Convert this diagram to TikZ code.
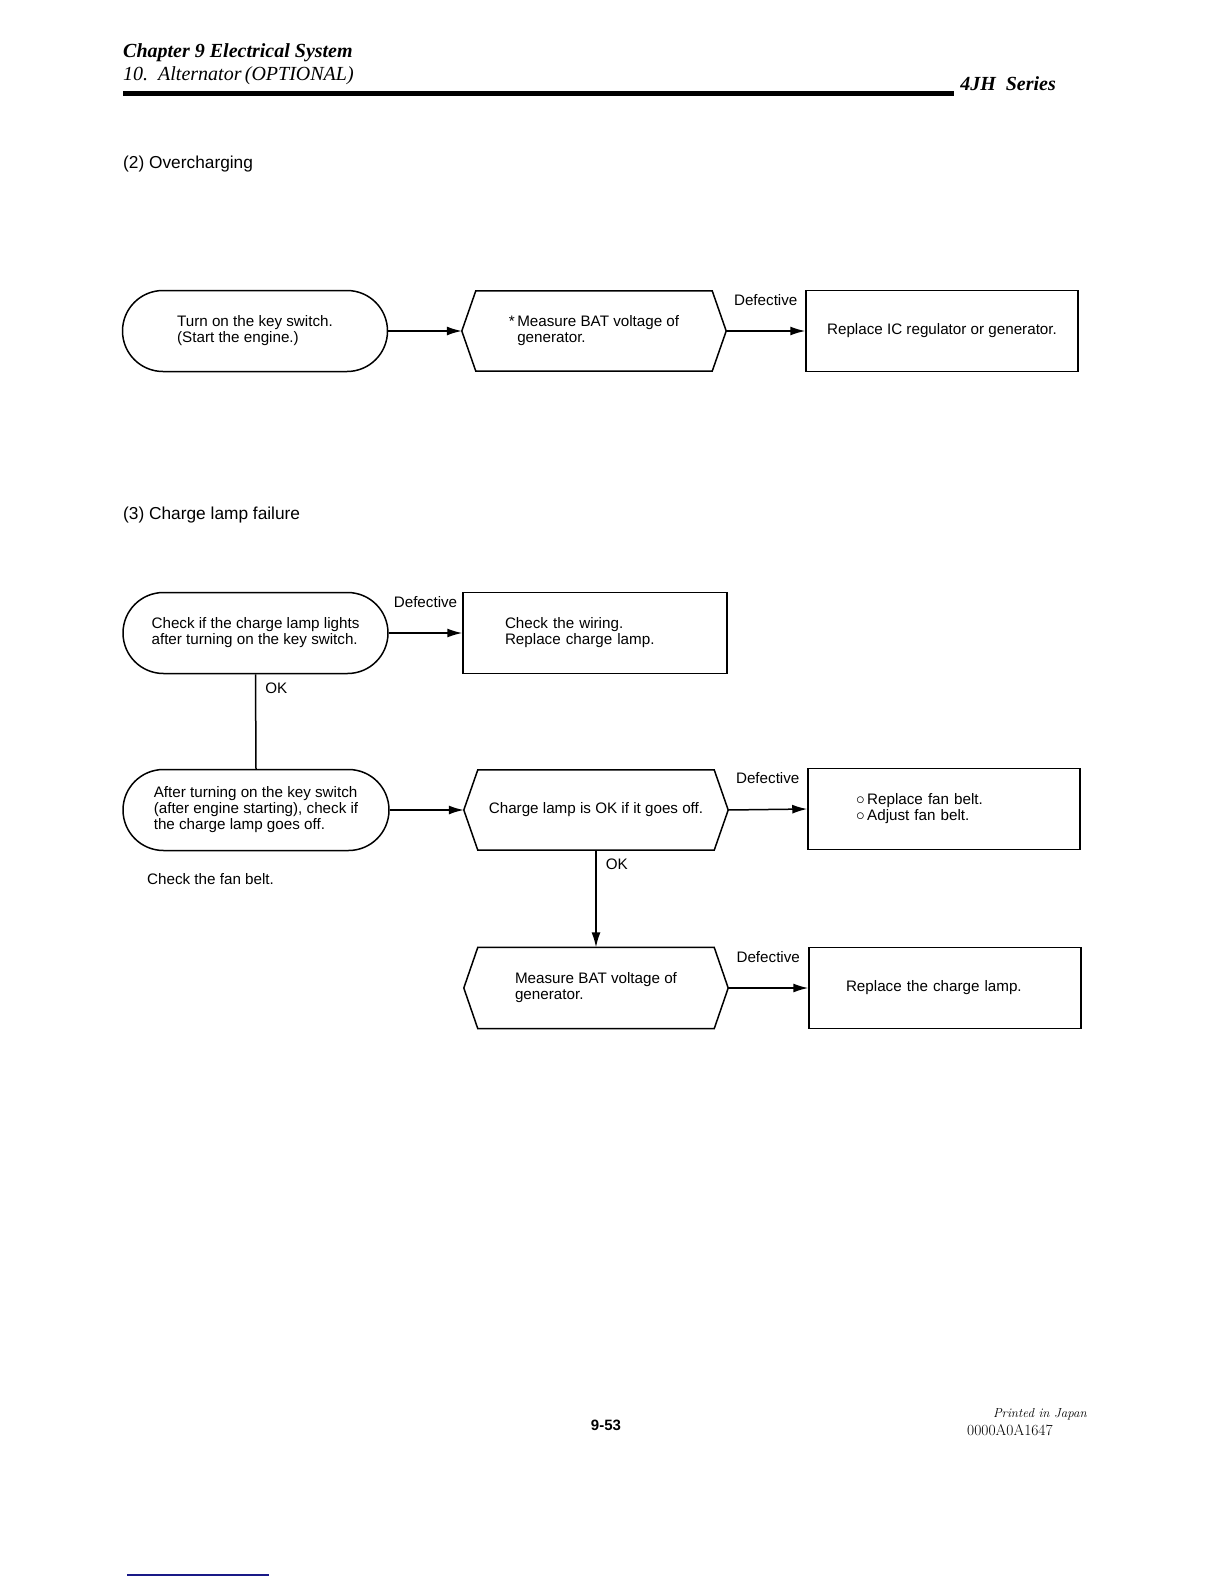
\documentclass[tikz,border=0pt]{standalone}
\usepackage{fontspec}
\setsansfont{Liberation Sans}
\newfontfamily\headfont{Liberation Serif}
\usepackage{tikz}
\usetikzlibrary{arrows.meta, positioning, shapes.misc}

\definecolor{scanblue}{RGB}{25,25,135}

% hexagon frame drawn round a plain node
\def\hexcut{14}
\newcommand{\hexframe}[1]{%
  \draw[flowline, line join=miter] ([xshift=\hexcut pt]#1.north west) -- ([xshift=-\hexcut pt]#1.north east)
    -- (#1.east) -- ([xshift=-\hexcut pt]#1.south east) -- ([xshift=\hexcut pt]#1.south west) -- (#1.west) -- cycle;}
\newcommand{\ringmark}{\smash{\fontsize{18}{16}\selectfont$\circ$}}

\begin{document}
\begin{tikzpicture}[
    x=1pt, y=-1pt,
    every node/.style={font=\sffamily\fontsize{15.2}{16}\selectfont},
    termbox/.style={rounded rectangle, draw, line width=1.5pt, minimum width=265pt, minimum height=81pt, inner sep=0pt, align=left},
    hexbox/.style={minimum width=264pt, minimum height=80pt, inner sep=0pt, align=left},
    actbox/.style={draw, line width=1.5pt, minimum height=81pt, align=left},
    flowarrow/.style={-{Latex[length=15pt,width=9pt]}, line width=1.5pt},
    flowline/.style={line width=1.5pt},
    deflabel/.style={above=25pt, inner sep=0pt},
    oklabel/.style={right=9pt, inner sep=0pt},
    chapfont/.style={font=\headfont\fontsize{20}{22}\selectfont\bfseries\itshape, anchor=west, inner sep=0pt},
    sectfont/.style={font=\headfont\fontsize{20}{22}\selectfont\itshape, anchor=west, inner sep=0pt},
    titlefont/.style={font=\sffamily\fontsize{17.3}{20}\selectfont, anchor=west, inner sep=0pt}
]

\fill[white] (0,0) rectangle (1224,1584);
\useasboundingbox (0,0) rectangle (1224,1584);

% page head
\node[chapfont] (chaptitle) at (123,53) {Chapter 9 Electrical System};
\node[sectfont] (secttitle) at (123,76) {10.\ \ Alternator\,(OPTIONAL)};
\draw[line width=5pt] (123,94) -- (954,94);
\node[chapfont, anchor=east] (series) at (1056,84) {4JH\ \ Series};

% (2) Overcharging
\node[titlefont] (sec2) at (123,164) {(2) Overcharging};

\node[termbox] (keyon) at (255,331) {Turn on the key switch.\\(Start the engine.)};
\node[hexbox] (batover) at (594,331) {*\,Measure BAT voltage of\\\hphantom{*\,}generator.};
\hexframe{batover}
\node[actbox, minimum width=272pt, align=center] (icrep) at (942,331) {Replace IC regulator or generator.};

\draw[flowarrow] (keyon.east) -- (batover.west);
\draw[flowarrow] (batover.east) -- node[deflabel] {Defective} (icrep.west);

% (3) Charge lamp failure
\node[titlefont] (sec3) at (123,515) {(3) Charge lamp failure};

\node[termbox] (lampon) at (255.5,633) {Check if the charge lamp lights\\after turning on the key switch.};
\node[actbox, text width=180pt, inner xsep=42pt] (wirechk) at (595,633) {Check the wiring.\\Replace charge lamp.};

\node[termbox, minimum width=266pt] (lampoff) at (256,810) {After turning on the key switch\\(after engine starting), check if\\the charge lamp goes off.};
\node[hexbox] (lampok) at (596,810) {Charge lamp is OK if it goes off.};
\hexframe{lampok}
\node[actbox, text width=176pt, inner xsep=48pt] (beltfix) at (944,809) {\ringmark\,Replace fan belt.\\\ringmark\,Adjust fan belt.};
\node[anchor=west, inner sep=0pt] (beltnote) at (147,879) {Check the fan belt.};

\node[hexbox, minimum height=81pt] (batlamp) at (596,988) {Measure BAT voltage of\\generator.};
\hexframe{batlamp}
\node[actbox, text width=198pt, inner xsep=37pt] (lamprep) at (945,988) {Replace the charge lamp.};

\draw[flowarrow] (lampon.east) -- node[deflabel] {Defective} (wirechk.west);
\draw[flowline] (lampon.south) -- node[oklabel, pos=0.15] {OK} (lampoff.north);
\draw[flowarrow] (lampoff.east) -- (lampok.west);
\draw[flowarrow] (lampok.east) -- node[deflabel] {Defective} (beltfix.west);
\draw[flowarrow] (lampok.south) -- node[oklabel, pos=0.14] {OK} (batlamp.north);
\draw[flowarrow] (batlamp.east) -- node[deflabel] {Defective} (lamprep.west);

% page foot
\node[font=\sffamily\bfseries\fontsize{15}{16}\selectfont] (pageno) at (606,1425) {9-53};
\node[anchor=east, inner sep=0pt, font=\rmfamily\itshape\fontsize{13}{14}\selectfont\addfontfeature{LetterSpace=6}] (printed) at (1087,1414) {Printed in Japan};
\node[anchor=west, inner sep=0pt, font=\rmfamily\fontsize{15.5}{16}\selectfont] (partno) at (967,1430) {0000A0A1647};
\draw[scanblue, line width=1.5pt] (127,1575) -- (269,1575);

\end{tikzpicture}
\end{document}
